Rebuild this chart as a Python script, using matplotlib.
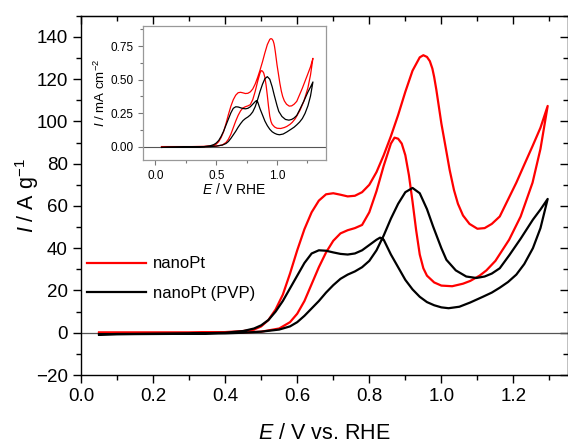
import numpy as np
import matplotlib
matplotlib.use("Agg")
import matplotlib.pyplot as plt
from matplotlib.ticker import MultipleLocator, FormatStrFormatter

plt.rcParams['font.family'] = ['Liberation Sans', 'DejaVu Sans']
plt.rcParams['mathtext.fontset'] = 'custom'
plt.rcParams['mathtext.rm'] = 'Liberation Sans'
plt.rcParams['mathtext.it'] = 'Liberation Sans:italic'

# ---- data: nanoPt (red) ----
red_fwd_E = [0.05, 0.10, 0.20, 0.30, 0.40, 0.45, 0.48, 0.50, 0.52, 0.54, 0.56, 0.58, 0.60,
             0.62, 0.64, 0.66, 0.68, 0.70, 0.72, 0.74, 0.76, 0.78, 0.80, 0.82, 0.84, 0.86,
             0.88, 0.90, 0.92, 0.94, 0.95, 0.96, 0.968, 0.975, 0.98, 0.986, 0.993, 1.00, 1.01,
             1.023, 1.035, 1.046, 1.06, 1.078, 1.10, 1.12, 1.14, 1.162, 1.185, 1.208, 1.23,
             1.253, 1.275, 1.295]
red_fwd_I = [0.0, 0.0, 0.0, 0.0, 0.3, 0.8, 1.5, 3.0, 6.0, 11.0, 18.0, 28.0, 39.0,
             49.0, 57.0, 62.5, 65.5, 66.0, 65.3, 64.5, 64.8, 66.5, 70.0, 76.0, 84.0, 93.0,
             103.0, 114.0, 124.0, 130.3, 131.3, 130.5, 128.5, 125.0, 121.0, 115.0, 107.0, 99.0,
             89.5, 77.0, 67.5, 61.0, 55.5, 51.5, 49.2, 49.5, 51.5, 55.0, 63.0, 71.0, 79.5,
             88.3, 97.0, 107.3]
red_rev_E = [1.295, 1.275, 1.253, 1.22, 1.188, 1.15, 1.125, 1.106, 1.08, 1.06, 1.03, 1.00,
             0.98, 0.96, 0.95, 0.94, 0.93, 0.92, 0.91, 0.90, 0.89, 0.88, 0.87, 0.86, 0.84,
             0.82, 0.80, 0.78, 0.76, 0.74, 0.72, 0.70, 0.68, 0.66, 0.64, 0.62, 0.60, 0.58,
             0.55, 0.50, 0.45, 0.40, 0.30, 0.20, 0.10, 0.05]
red_rev_I = [107.3, 87.0, 71.0, 55.0, 44.0, 34.0, 29.5, 27.0, 24.5, 23.2, 22.0, 22.3,
             23.8, 27.0, 30.5, 37.0, 48.5, 62.0, 74.5, 84.0, 89.5, 91.8, 92.3, 89.5, 79.0,
             67.0, 57.0, 51.0, 49.5, 48.5, 47.0, 43.5, 38.0, 31.0, 23.0, 15.0, 9.0, 5.0,
             2.0, 0.5, 0.2, 0.0, 0.0, 0.0, 0.0, 0.0]

# ---- data: nanoPt (PVP) (black) ----
blk_fwd_E = [0.05, 0.10, 0.20, 0.30, 0.40, 0.45, 0.48, 0.50, 0.52, 0.54, 0.56, 0.58, 0.60,
             0.62, 0.64, 0.66, 0.68, 0.70, 0.72, 0.74, 0.76, 0.78, 0.80, 0.82, 0.83, 0.84,
             0.86, 0.88, 0.90, 0.92, 0.94, 0.96, 0.98, 1.00, 1.02, 1.05, 1.08, 1.115, 1.14,
             1.162, 1.185, 1.208, 1.23, 1.254, 1.275, 1.295]
blk_fwd_I = [-0.8, -0.6, -0.5, -0.4, 0.0, 0.8, 2.0, 3.5, 6.0, 10.0, 15.0, 21.0, 27.0,
             33.0, 37.5, 39.0, 38.8, 38.0, 37.3, 37.0, 37.5, 39.0, 41.5, 44.0, 45.0, 44.0,
             37.0, 31.0, 25.0, 20.5, 17.0, 14.5, 13.0, 12.0, 11.6, 12.3, 14.3, 17.0, 19.0,
             21.3, 24.0, 27.5, 32.5, 40.0, 49.5, 63.3]
blk_rev_E = [1.295, 1.275, 1.254, 1.22, 1.189, 1.162, 1.14, 1.12, 1.097, 1.069, 1.04, 1.014,
             1.00, 0.977, 0.96, 0.94, 0.92, 0.90, 0.88, 0.86, 0.84, 0.82, 0.80, 0.78, 0.76,
             0.74, 0.72, 0.70, 0.68, 0.66, 0.64, 0.62, 0.60, 0.58, 0.55, 0.50, 0.45, 0.40,
             0.30, 0.20, 0.10, 0.05]
blk_rev_I = [63.3, 58.3, 53.5, 44.5, 36.8, 30.5, 28.0, 26.6, 25.9, 26.6, 29.5, 34.5,
             40.0, 50.3, 58.5, 66.0, 68.5, 66.5, 61.0, 54.0, 46.0, 39.0, 34.0, 31.0, 29.0,
             27.5, 25.5, 22.5, 19.0, 15.0, 11.5, 8.0, 5.0, 3.0, 1.5, 0.5, 0.0, -0.3,
             -0.5, -0.6, -0.7, -0.8]

# conversion from A g^-1 to mA cm^-2 (inset), read from peak heights
red_area_factor = 0.00614
blk_area_factor = 0.00762

RED = '#ff0000'
BLK = '#000000'

fig = plt.figure(figsize=(5.68, 4.46), dpi=100)
ax = fig.add_axes([81 / 568, 1 - 375 / 446, (567.5 - 81) / 568, (375 - 15.7) / 446])

ax.axhline(0, color='#555555', lw=0.9, zorder=1)
ax.plot(red_fwd_E + red_rev_E, red_fwd_I + red_rev_I, color=RED, lw=1.6, label='nanoPt', zorder=2)
ax.plot(blk_fwd_E + blk_rev_E, blk_fwd_I + blk_rev_I, color=BLK, lw=1.6, label='nanoPt (PVP)', zorder=3)

ax.set_xlim(0.0, 1.35)
ax.set_ylim(-20, 150)
ax.xaxis.set_major_locator(MultipleLocator(0.2))
ax.xaxis.set_minor_locator(MultipleLocator(0.1))
ax.xaxis.set_major_formatter(FormatStrFormatter('%.1f'))
ax.set_yticks(np.arange(-20, 141, 20))
ax.yaxis.set_minor_locator(MultipleLocator(10))
ax.tick_params(which='both', direction='out', labelsize=13.5, width=1, top=False, right=False)
ax.tick_params(which='major', length=6)
ax.tick_params(which='minor', length=3.5)
for s in ax.spines.values():
    s.set_linewidth(1.0)

# inward ticks on top and right
axt = ax.secondary_xaxis('top')
axt.xaxis.set_major_locator(MultipleLocator(0.2))
axt.xaxis.set_minor_locator(MultipleLocator(0.1))
axt.tick_params(which='both', direction='in', labeltop=False, width=1)
axt.tick_params(which='major', length=6)
axt.tick_params(which='minor', length=3.5)
axr = ax.secondary_yaxis('right')
axr.yaxis.set_major_locator(MultipleLocator(20))
axr.yaxis.set_minor_locator(MultipleLocator(10))
axr.tick_params(which='both', direction='in', labelright=False, width=1)
axr.tick_params(which='major', length=6)
axr.tick_params(which='minor', length=3.5)

ax.set_xlabel('$E$ / V vs. RHE', fontsize=15.5, labelpad=13)
ax.set_ylabel('$I$ / A g$^{-1}$', fontsize=15.5, labelpad=-4)

ax.legend(loc='upper left', bbox_to_anchor=(0.012, 0.33), frameon=False, fontsize=12,
          handlelength=3.55, handletextpad=0.4, labelspacing=0.85, borderpad=0, borderaxespad=0)

# ---- inset ----
ins = fig.add_axes([143.3 / 568, 1 - 160 / 446, (325.7 - 143.3) / 568, (160 - 26) / 446])
ins.axhline(0, color='#555555', lw=0.8, zorder=1)
ins.plot(red_fwd_E + red_rev_E, [v * red_area_factor for v in red_fwd_I + red_rev_I],
         color=RED, lw=0.9, zorder=2)
ins.plot(blk_fwd_E + blk_rev_E, [v * blk_area_factor for v in blk_fwd_I + blk_rev_I],
         color=BLK, lw=0.9, zorder=3)
ins.set_xlim(-0.1, 1.4)
ins.set_ylim(-0.1, 0.9)
ins.xaxis.set_major_locator(MultipleLocator(0.5))
ins.xaxis.set_minor_locator(MultipleLocator(0.25))
ins.set_yticks([0.0, 0.25, 0.5, 0.75])
ins.yaxis.set_minor_locator(MultipleLocator(0.125))
ins.xaxis.set_major_formatter(FormatStrFormatter('%.1f'))
ins.yaxis.set_major_formatter(FormatStrFormatter('%.2f'))
ins.tick_params(which='both', direction='out', labelsize=8.5, colors='#777777', labelcolor='black', width=0.8)
ins.tick_params(which='major', length=3.5)
ins.tick_params(which='minor', length=2)
for s in ins.spines.values():
    s.set_color('#999999')
    s.set_linewidth(0.9)
ins.set_xlabel('$E$ / V RHE', fontsize=10, labelpad=0)
ins.set_ylabel('$I$ / mA cm$^{-2}$', fontsize=9.5, labelpad=2)

fig.savefig('out.png', dpi=100)
